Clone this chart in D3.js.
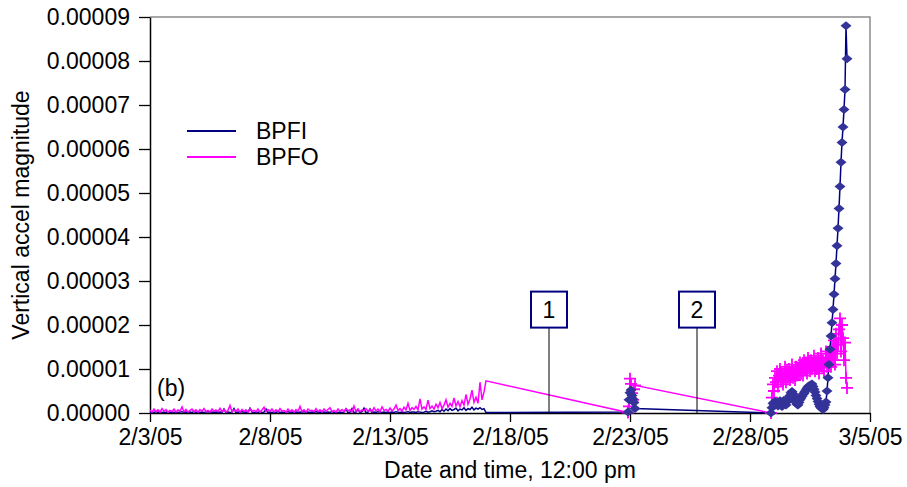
<!DOCTYPE html>
<html>
<head>
<meta charset="utf-8">
<script src="https://cdn.jsdelivr.net/npm/d3@7"></script>
<style>
    body { margin: 0; background: #fff; }
    svg text { font-family: "Liberation Sans", Arial, sans-serif; fill: #000; }
</style>
</head>
<body>
<div id="chart"></div>
<script>
// x axis tick labels (each at 12:00 pm)
const xTickLabels = ["2/3/05", "2/8/05", "2/13/05", "2/18/05", "2/23/05", "2/28/05", "3/5/05"];
const yTickValues = [0, 0.00001, 0.00002, 0.00003, 0.00004, 0.00005, 0.00006, 0.00007, 0.00008, 0.00009];

// recorded segments: start time and sample step (hours)
const segStarts = ["2005-02-03T12:00", "2005-02-23T10:00", "2005-03-01T09:00"];
const segStepHours = [2, 1, 1];

// values below are in units of 1e-6 (segment 1: one row per day)
const bpfiSeg1 = [
    0.1, 0.2, 0.1, 0.3, 0.1, 0.2, 0.1, 0.2, 0.1, 0.3, 0.1, 0.2,
    0.1, 0.2, 0.1, 0.2, 0.3, 0.1, 0.2, 0.1, 0.2, 0.1, 0.3, 0.1,
    0.2, 0.1, 0.2, 0.1, 0.2, 0.3, 0.1, 0.2, 0.1, 0.2, 0.1, 0.2,
    0.1, 0.9, 0.1, 0.2, 0.1, 0.2, 1.0, 0.1, 0.2, 0.1, 0.3, 0.1,
    0.2, 0.1, 1.1, 0.2, 0.1, 0.2, 0.1, 0.3, 0.1, 0.2, 0.9, 0.1,
    0.2, 0.1, 0.2, 0.1, 0.3, 0.1, 0.2, 0.1, 0.2, 0.3, 0.1, 0.2,
    0.1, 0.2, 0.1, 0.2, 0.1, 0.3, 0.1, 0.2, 0.1, 0.2, 0.1, 0.3,
    0.1, 0.2, 0.1, 0.2, 0.1, 0.2, 0.1, 0.3, 0.1, 0.2, 0.1, 0.2,
    0.1, 0.2, 0.9, 0.1, 0.2, 1.0, 0.1, 0.2, 0.8, 0.1, 0.3, 1.1,
    0.1, 0.2, 0.9, 0.1, 0.2, 0.1, 0.3, 0.2, 0.1, 0.2, 0.1, 0.2,
    0.1, 0.2, 0.1, 0.3, 0.2, 0.1, 0.2, 0.1, 0.2, 0.3, 0.1, 0.2,
    0.2, 0.1, 0.3, 0.2, 0.1, 0.2, 0.4, 0.2, 0.3, 0.5, 0.3, 0.4,
    0.6, 0.3, 0.8, 0.4, 0.9, 0.5, 1.0, 0.6, 0.8, 1.1, 0.5, 0.9,
    0.7, 1.2, 0.6, 1.0, 0.8, 1.3, 0.7, 1.1, 0.9, 1.2, 0.8, 1.0,
    0.1
];
const bpfoSeg1 = [
    0.6, 0.2, 0.9, 0.3, 0.7, 0.2, 1.0, 0.4, 0.8, 0.2, 0.6, 0.3,
    0.9, 0.2, 0.7, 0.4, 1.4, 0.3, 0.8, 0.2, 0.6, 0.9, 0.3, 0.7,
    0.2, 0.8, 0.4, 1.0, 0.3, 0.6, 0.2, 0.9, 0.4, 0.7, 0.3, 1.1,
    0.3, 0.8, 0.2, 0.6, 1.7, 0.3, 0.7, 0.4, 0.9, 0.2, 0.8, 0.3,
    0.7, 0.2, 1.0, 0.4, 0.6, 0.3, 0.9, 0.2, 0.7, 1.3, 0.3, 0.8,
    0.4, 0.9, 0.2, 0.7, 0.3, 1.0, 0.4, 0.6, 0.2, 0.9, 0.3, 0.7,
    0.2, 0.8, 0.4, 1.5, 0.3, 0.7, 0.2, 0.9, 0.5, 0.6, 0.3, 1.0,
    0.3, 0.7, 0.2, 0.9, 0.4, 0.8, 1.2, 0.3, 0.6, 0.2, 0.9, 0.4,
    0.8, 0.3, 1.0, 0.5, 0.7, 0.2, 1.6, 0.4, 0.9, 0.3, 0.7, 0.5,
    1.0, 0.4, 0.8, 0.3, 1.2, 0.5, 0.9, 0.3, 1.4, 0.6, 0.8, 0.4,
    1.1, 0.5, 0.9, 1.8, 0.6, 1.0, 0.4, 1.3, 0.7, 2.2, 0.6, 1.2,
    0.8, 1.5, 0.7, 3.2, 0.9, 1.4, 0.8, 2.9, 1.0, 1.6, 0.9, 2.0,
    1.2, 2.4, 1.0, 1.8, 3.0, 1.3, 2.2, 1.5, 3.4, 1.6, 2.6, 1.4,
    2.8, 1.8, 4.2, 2.0, 3.2, 5.2, 2.4, 3.6, 2.2, 7.0, 3.0, 4.8,
    7.3
];
const bpfiSeg2 = [0.2, 3.0, 4.6, 5.2, 4.0, 3.2, 2.4, 1.0];
const bpfoSeg2 = [0.1, 1.5, 7.8, 6.6, 4.5, 3.0, 5.4, 6.3];
const bpfiSeg3 = [
    0, 1.2, 2.2, 1.8, 2.6, 2.0, 2.4, 1.6, 2.2, 2.8, 2.0, 1.5, 2.4, 2.9, 2.2, 1.8, 2.6, 3.0, 3.5,
    4.0, 4.6, 4.9, 4.4, 3.8, 3.0, 2.4, 2.0,
    1.8, 2.4, 3.0,
    3.4, 3.8, 4.2, 4.5, 4.9, 5.2, 5.6, 5.9, 6.2, 6.0, 6.4, 6.6,
    6.0, 5.4, 4.8, 4.0, 3.3, 2.6, 2.0, 1.5, 1.2, 1.0,
    0.8, 1.2, 1.8,
    2.5, 5.0, 8.0, 11.0, 14.5, 17.5, 20.5, 23.5, 27.0, 30.5, 34.0, 38.0,
    42.0, 46.5, 51.5, 57.0, 61.5, 65.0, 69.0, 73.5, 88.0, 80.5
];
const bpfoSeg3 = [
    0, 3.5, 6.5, 5.0, 8.0,
    7.0, 9.5, 6.0, 8.5, 10.0, 7.5, 9.0, 6.5, 8.0, 10.5, 7.0, 9.5, 8.0, 10.0, 7.5, 9.0, 11.0, 8.0, 9.5, 7.5, 10.5, 8.5, 10.0, 9.0, 11.5,
    9.0, 11.0, 8.5, 12.0, 10.0, 11.5, 9.0, 12.5, 10.5, 9.5, 12.0, 10.0, 11.0, 13.0, 9.5,
    11.5, 10.0, 12.5, 9.0, 11.0, 13.5, 10.5, 12.0, 9.5, 11.5, 14.0, 10.5, 12.5, 11.0, 13.5,
    10.5, 15.0, 12.0, 16.5, 11.0, 18.0, 13.5, 15.5, 19.0, 21.5, 14.0, 20.0, 17.0, 12.0, 16.0, 8.0, 5.7
];

// callout labels and where their leaders touch the axis
const callouts = [
    { label: "1", date: "2005-02-20T03:00" },
    { label: "2", date: "2005-02-26T07:00" }
];

class AccelChart {
    constructor(_config) {
        this.config = {
            parentElement: _config.parentElement,
            containerWidth: 907,
            containerHeight: 487,
            margin: { top: 17, right: 37, bottom: 74, left: 150 }
        };
        this.initVis();
    }

    buildSeries(segments) {
        let out = [];
        segments.forEach((vals, s) => {
            let start = new Date(segStarts[s]);
            vals.forEach((v, i) => {
                out.push({
                    date: new Date(start.getTime() + i * segStepHours[s] * 3600000),
                    value: v * 1e-6,
                    seg: s
                });
            });
        });
        return out;
    }

    initVis() {
        let vis = this;
        const fs = "23px";

        vis.width = vis.config.containerWidth - vis.config.margin.left - vis.config.margin.right;
        vis.height = vis.config.containerHeight - vis.config.margin.top - vis.config.margin.bottom;

        vis.svg = d3.select(vis.config.parentElement)
            .append('svg')
            .attr('width', vis.config.containerWidth)
            .attr('height', vis.config.containerHeight);

        vis.chart = vis.svg.append('g')
            .attr('transform', `translate(${vis.config.margin.left},${vis.config.margin.top})`);

        const parseTick = d3.timeParse("%m/%d/%y %H");
        vis.tickDates = xTickLabels.map(d => parseTick(d + " 12"));

        vis.xScale = d3.scaleTime()
            .domain([vis.tickDates[0], vis.tickDates[vis.tickDates.length - 1]])
            .range([0, vis.width]);

        vis.yScale = d3.scaleLinear()
            .domain([0, 0.00009])
            .range([vis.height, 0]);

        // grey frame on top and right
        vis.chart.append('path')
            .attr('d', `M0,0H${vis.width}V${vis.height}`)
            .attr('fill', 'none')
            .attr('stroke', '#8c8c8c')
            .attr('stroke-width', 1.5);

        // axes
        let xAxis = d3.axisBottom(vis.xScale)
            .tickValues(vis.tickDates)
            .tickFormat((d, i) => xTickLabels[i])
            .tickSize(9)
            .tickSizeOuter(0)
            .tickPadding(7);

        let yAxis = d3.axisLeft(vis.yScale)
            .tickValues(yTickValues)
            .tickFormat(d3.format(".5f"))
            .tickSize(11)
            .tickSizeOuter(0)
            .tickPadding(9);

        let xG = vis.chart.append('g')
            .attr('transform', `translate(0,${vis.height})`)
            .call(xAxis);
        let yG = vis.chart.append('g').call(yAxis);

        [xG, yG].forEach(g => {
            g.selectAll('text').style('font-size', fs);
            g.selectAll('line').attr('stroke', '#000').attr('stroke-width', 1.3);
            g.select('.domain').attr('stroke', '#000').attr('stroke-width', 1.5);
        });

        // axis titles
        vis.svg.append('text')
            .attr('x', vis.config.margin.left + vis.width / 2)
            .attr('y', 478)
            .attr('text-anchor', 'middle')
            .style('font-size', fs)
            .text('Date and time, 12:00 pm');

        vis.svg.append('text')
            .attr('transform', `translate(29,${vis.config.margin.top + vis.height / 2}) rotate(-90)`)
            .attr('text-anchor', 'middle')
            .style('font-size', fs)
            .text('Vertical accel magnitude');

        vis.chart.append('text')
            .attr('x', 7)
            .attr('y', vis.height - 17)
            .style('font-size', fs)
            .text('(b)');

        // legend
        let legend = vis.svg.append('g');
        [["BPFI", "#000080", 131], ["BPFO", "#ff00ff", 157]].forEach(([name, col, y]) => {
            legend.append('line')
                .attr('x1', 187).attr('x2', 236)
                .attr('y1', y).attr('y2', y)
                .attr('stroke', col)
                .attr('stroke-width', 2);
            legend.append('text')
                .attr('x', 256)
                .attr('y', y + 8)
                .style('font-size', fs)
                .text(name);
        });

        vis.bpfi = vis.buildSeries([bpfiSeg1, bpfiSeg2, bpfiSeg3]);
        vis.bpfo = vis.buildSeries([bpfoSeg1, bpfoSeg2, bpfoSeg3]);

        vis.renderVis();
    }

    renderVis() {
        let vis = this;

        let line = d3.line()
            .x(d => vis.xScale(d.date))
            .y(d => vis.yScale(d.value));

        vis.chart.append('path')
            .datum(vis.bpfi)
            .attr('d', line)
            .attr('fill', 'none')
            .attr('stroke', '#000080')
            .attr('stroke-width', 1.5);

        vis.chart.append('path')
            .datum(vis.bpfo)
            .attr('d', line)
            .attr('fill', 'none')
            .attr('stroke', '#ff00ff')
            .attr('stroke-width', 1.5);

        // plus markers for BPFO
        vis.chart.selectAll('.plus')
            .data(vis.bpfo.filter(d => d.seg > 0))
            .join('path')
            .attr('class', 'plus')
            .attr('transform', d => `translate(${vis.xScale(d.date)},${vis.yScale(d.value)})`)
            .attr('d', 'M-6,0H6M0,-6V6')
            .attr('stroke', '#ff00ff')
            .attr('stroke-width', 1.8);

        // diamond markers for BPFI
        vis.chart.selectAll('.diamond')
            .data(vis.bpfi.filter(d => d.seg > 0))
            .join('path')
            .attr('class', 'diamond')
            .attr('transform', d => `translate(${vis.xScale(d.date)},${vis.yScale(d.value)})`)
            .attr('d', 'M0,-4.5L5.5,0L0,4.5L-5.5,0Z')
            .attr('fill', '#333399');

        // numbered callouts
        let boxY = vis.yScale(0.0000235);
        callouts.forEach(c => {
            let cx = vis.xScale(new Date(c.date));
            vis.chart.append('line')
                .attr('x1', cx).attr('x2', cx)
                .attr('y1', boxY + 18).attr('y2', vis.height)
                .attr('stroke', '#000')
                .attr('stroke-width', 1);
            vis.chart.append('rect')
                .attr('x', cx - 18).attr('y', boxY - 18)
                .attr('width', 36).attr('height', 36)
                .attr('fill', '#fff')
                .attr('stroke', '#000080')
                .attr('stroke-width', 2);
            vis.chart.append('text')
                .attr('x', cx)
                .attr('y', boxY + 8)
                .attr('text-anchor', 'middle')
                .style('font-size', '23px')
                .text(c.label);
        });
    }
}

new AccelChart({ parentElement: '#chart' });
</script>
</body>
</html>
